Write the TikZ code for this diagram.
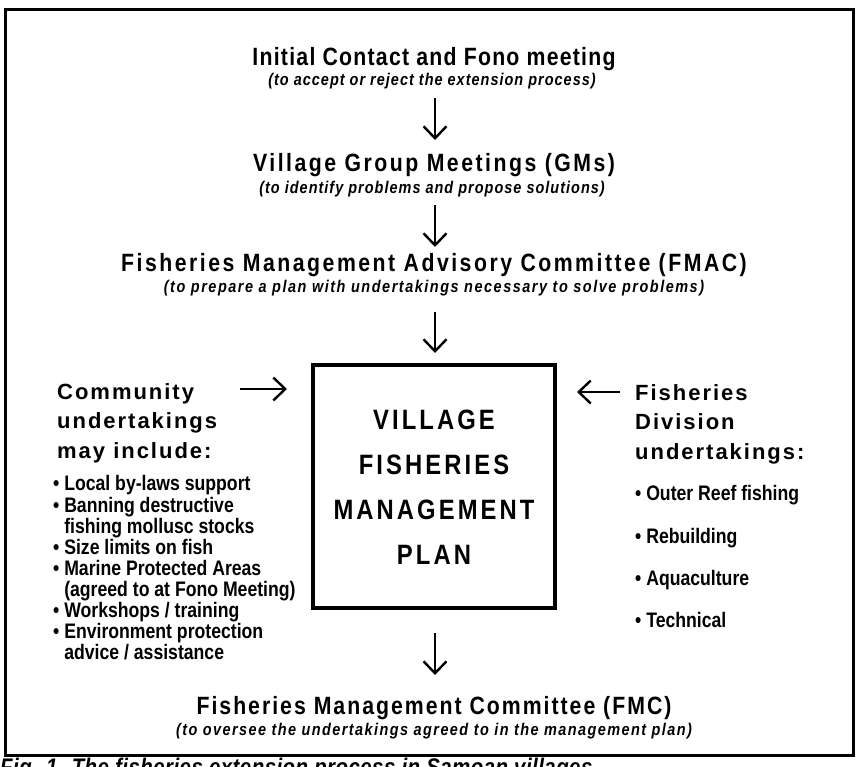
\documentclass[tikz,border=0pt]{standalone}
\usepackage{fontspec}
\setmainfont{Liberation Sans}
\newfontfamily\condfam[FakeStretch=0.85]{Liberation Sans}
\newfontfamily\itemfam[FakeStretch=0.84]{Liberation Sans}
\usetikzlibrary{arrows.meta}
\tikzset{
  ttl/.style={font=\condfam\bfseries\fontsize{25}{28}\selectfont\addfontfeature{LetterSpace=#1}, inner sep=0pt, anchor=base},
  subttl/.style={font=\condfam\bfseries\itshape\fontsize{17}{19}\selectfont\addfontfeature{LetterSpace=#1}, inner sep=0pt, anchor=base},
  heading/.style={font=\bfseries\fontsize{22}{29.5}\selectfont\addfontfeature{LetterSpace=9}, align=left, inner sep=0pt, anchor=north west},
  litem/.style={font=\itemfam\bfseries\fontsize{21}{21.1}\selectfont, align=left, inner sep=0pt, anchor=north west},
  ritem/.style={font=\itemfam\bfseries\fontsize{21}{21}\selectfont, align=left, inner sep=0pt, anchor=north west},
  boxtxt/.style={font=\condfam\bfseries\fontsize{28}{45}\selectfont\addfontfeature{LetterSpace=11}, align=center, inner sep=0pt},
  flow/.style={line width=2.4pt, -{Straight Barb[length=12pt,width=23pt,line width=2.4pt]}},
  frame/.style={line width=3pt},
  planbox/.style={draw, line width=3.2pt, minimum width=242pt, minimum height=243pt, inner sep=0pt}
}
\begin{document}
\begin{tikzpicture}[x=1pt,y=-1pt]
\useasboundingbox (0,0) rectangle (858,767);
\fill[white] (0,0) rectangle (858,767);
\draw[frame] (5,10) rectangle (853,755);

\node[ttl=5] (t1) at (434,66) {Initial Contact and Fono meeting};
\node[subttl=6] (s1) at (432,86) {(to accept or reject the extension process)};
\node[ttl=10] (t2) at (434,172) {Village Group Meetings (GMs)};
\node[subttl=6] (s2) at (432,194) {(to identify problems and propose solutions)};
\node[ttl=10] (t3) at (434,271) {Fisheries Management Advisory Committee (FMAC)};
\node[subttl=9] (s3) at (434,292) {(to prepare a plan with undertakings necessary to solve problems)};

\node[planbox] (plan) at (434,486.5) {};
\node[boxtxt] (plantxt) at (434,487.5) {VILLAGE\\FISHERIES\\MANAGEMENT\\PLAN};

\node[ttl=8] (t4) at (434,714) {Fisheries Management Committee (FMC)};
\node[subttl=8.5] (s4) at (434,735) {(to oversee the undertakings agreed to in the management plan)};

\node[heading] (lhead) at (57,383) {Community\\undertakings\\may include:};
\node[litem] (litems) at (53,475.5) {\textbullet\ Local by-laws support\\
\textbullet\ Banning destructive\\
\phantom{\textbullet\ }fishing mollusc stocks\\
\textbullet\ Size limits on fish\\
\textbullet\ Marine Protected Areas\\
\phantom{\textbullet\ }(agreed to at Fono Meeting)\\
\textbullet\ Workshops / training\\
\textbullet\ Environment protection\\
\phantom{\textbullet\ }advice / assistance};

\node[heading] (rhead) at (635,384) {Fisheries\\Division\\undertakings:};
\node[ritem] (ritems) at (635,485.5) {\textbullet\ Outer Reef fishing\\[21.3pt]
\textbullet\ Rebuilding\\[21.3pt]
\textbullet\ Aquaculture\\[21.3pt]
\textbullet\ Technical};

\coordinate (a1s) at (435,98);  \coordinate (a1e) at (435,140);
\coordinate (a2s) at (435,205); \coordinate (a2e) at (435,247);
\coordinate (a3s) at (435,312); \coordinate (a3e) at (435,353);
\coordinate (a4s) at (435,633); \coordinate (a4e) at (435,675);
\coordinate (ltail) at (240,389); \coordinate (lend) at (287,389);
\coordinate (rtail) at (620,392); \coordinate (rend) at (577,392);

\draw[flow] (a1s) -- (a1e);
\draw[flow] (a2s) -- (a2e);
\draw[flow] (a3s) -- (a3e);
\draw[flow] (ltail) -- (lend);
\draw[flow] (rtail) -- (rend);
\draw[flow] (a4s) -- (a4e);

\node[font=\condfam\bfseries\itshape\fontsize{24}{26}\selectfont\addfontfeature{LetterSpace=2}, anchor=base west, inner sep=0pt] (cap) at (0,775) {Fig. 1. The fisheries extension process in Samoan villages};
\end{tikzpicture}
\end{document}
